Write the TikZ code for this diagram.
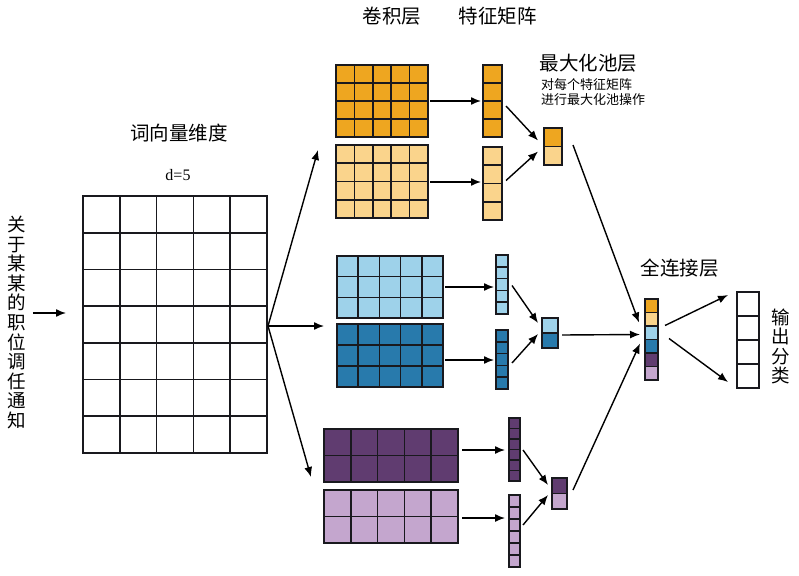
\documentclass[tikz,border=0pt]{standalone}
\usepackage{fontspec}
\newfontfamily\cjk{Noto Sans CJK SC}
\newfontfamily\serifnum{Liberation Serif}
\usetikzlibrary{arrows.meta,fit}
\definecolor{dorange}{RGB}{238,166,32}
\definecolor{lorange}{RGB}{250,212,140}
\definecolor{lblue}{RGB}{158,210,234}
\definecolor{dblue}{RGB}{40,122,172}
\definecolor{dpurple}{RGB}{96,60,112}
\definecolor{lpurple}{RGB}{196,166,206}
\definecolor{gridline}{RGB}{25,25,30}
\tikzset{
  gridbox/.style={draw=gridline, line width=1.6pt, inner sep=0pt, outer sep=0pt},
  gline/.style={draw=gridline, line width=1.6pt},
  arr/.style={-{Latex[length=10pt,width=8pt]}, line width=1.4pt},
  lab/.style={font=\cjk\fontsize{19.5}{21}\selectfont, inner sep=0pt},
  small/.style={font=\cjk\fontsize{13}{15}\selectfont, inner sep=0pt, align=left},
  vtext/.style={font=\cjk\fontsize{18.5}{19.6}\selectfont, inner sep=0pt, align=center},
}
% name, x1, y1, x2, y2, cols, rows, fill
\newcommand\cellgrid[8]{%
  \coordinate (#1-nw) at (#2,#3);
  \coordinate (#1-se) at (#4,#5);
  \node[gridbox, fill=#8, fit=(#1-nw)(#1-se)] (#1) {};
  \pgfmathsetmacro\gw{(#4-#2)/#6}%
  \pgfmathsetmacro\gh{(#5-#3)/#7}%
  \foreach \k in {0,...,#6}{\draw[gline] ({#2+\k*\gw},#3) -- ({#2+\k*\gw},#5);}
  \foreach \k in {0,...,#7}{\draw[gline] (#2,{#3+\k*\gh}) -- (#4,{#3+\k*\gh});}
}
\begin{document}
\begin{tikzpicture}[x=1pt,y=-1pt]
\useasboundingbox (0,0) rectangle (799,575);
\fill[white] (0,0) rectangle (799,575);

% labels
\node[lab] (lconv) at (392,16) {卷积层};
\node[lab] (lfeat) at (497.5,16) {特征矩阵};
\node[lab] (lpool) at (588.5,63) {最大化池层};
\node[small, anchor=north west] (lpoolnote) at (541,78) {对每个特征矩阵\\进行最大化池操作};
\node[lab] (lwv) at (179,133) {词向量维度};
\node[font=\serifnum\fontsize{16}{18}\selectfont, inner sep=0pt] (ld) at (178,175) {d=5};
\node[lab] (lfc) at (679.5,268) {全连接层};
\node[vtext] (in) at (16.5,322.5) {关\\于\\某\\某\\的\\职\\位\\调\\任\\通\\知};
\node[vtext] (lout) at (781,346.5) {输\\出\\分\\类};

% word vector matrix
\cellgrid{wg}{83}{196}{267}{453}{5}{7}{white}

% orange branch
\cellgrid{og1}{336}{65}{428}{137}{5}{4}{dorange}
\cellgrid{og2}{336}{145}{428}{218}{5}{4}{lorange}
\cellgrid{ov1}{483}{65}{502}{137}{1}{4}{dorange}
\cellgrid{ov2}{483}{147}{502}{220}{1}{4}{lorange}
\cellgrid{op}{544}{128}{562}{165}{1}{2}{dorange}
\fill[lorange] (544,146.5) rectangle (562,165);
\draw[gline] (544,128) rectangle (562,165);
\draw[gline] (544,146.5) -- (562,146.5);

% blue branch
\cellgrid{bg1}{337}{256}{443}{318}{5}{3}{lblue}
\cellgrid{bg2}{337}{324}{443}{387}{5}{3}{dblue}
\cellgrid{bv1}{496}{255}{508}{314}{1}{5}{lblue}
\cellgrid{bv2}{496}{330}{508}{389}{1}{5}{dblue}
\cellgrid{bp}{542}{318}{558}{348}{1}{2}{lblue}
\fill[dblue] (542,333) rectangle (558,348);
\draw[gline] (542,318) rectangle (558,348);
\draw[gline] (542,333) -- (558,333);

% purple branch
\cellgrid{pg1}{324}{429}{458}{482}{5}{2}{dpurple}
\cellgrid{pg2}{324}{490}{458}{543}{5}{2}{lpurple}
\cellgrid{pv1}{509}{418}{520}{481}{1}{6}{dpurple}
\cellgrid{pv2}{509}{495}{520}{567}{1}{6}{lpurple}
\cellgrid{pp}{552}{478}{567}{509}{1}{2}{dpurple}
\fill[lpurple] (552,493.5) rectangle (567,509);
\draw[gline] (552,478) rectangle (567,509);
\draw[gline] (552,493.5) -- (567,493.5);

% fully connected
\coordinate (fc-nw) at (645,299);
\coordinate (fc-se) at (658,380);
\node[gridbox, fit=(fc-nw)(fc-se)] (fc) {};
\foreach \c [count=\i from 0] in {dorange,lorange,lblue,dblue,dpurple,lpurple}{
  \fill[\c] (645,{299+\i*13.5}) rectangle (658,{299+(\i+1)*13.5});
}
\foreach \i in {0,...,6}{\draw[gline] (645,{299+\i*13.5}) -- (658,{299+\i*13.5});}
\draw[gline] (645,299) rectangle (658,380);

% output
\cellgrid{out}{737}{292}{759}{388}{1}{4}{white}

% input arrow
\coordinate (inarr) at (66,313);
\draw[arr, shorten <=7pt] (in.east |- inarr) -- (inarr);

% fan out from word matrix
\coordinate (wgout) at (268,326);
\coordinate (tipo) at (318,150);
\coordinate (tipb) at (324,326);
\coordinate (tipp) at (311,477);
\draw[arr] (wgout) -- (tipo);
\draw[arr] (wgout) -- (tipb);
\draw[arr] (wgout) -- (tipp);

% grid -> feature vectors
\draw[arr, shorten <=2pt, shorten >=2pt] (og1.east) -- (og1.east -| ov1.west);
\draw[arr, shorten <=2pt, shorten >=2pt] ([yshift=-0.5pt]og2.east) -- ([yshift=-0.5pt]og2.east -| ov2.west);
\draw[arr, shorten <=2pt, shorten >=2pt] (bg1.east) -- (bg1.east -| bv1.west);
\draw[arr, shorten <=2pt, shorten >=2pt] ([yshift=-4.5pt]bg2.east) -- ([yshift=-4.5pt]bg2.east -| bv2.west);
\draw[arr, shorten <=4pt, shorten >=4pt] ([yshift=5.5pt]pg1.east) -- ([yshift=5.5pt]pg1.east -| pv1.west);
\draw[arr, shorten <=4pt, shorten >=4pt] ([yshift=-1.5pt]pg2.east) -- ([yshift=-1.5pt]pg2.east -| pv2.west);

% feature vectors -> pools
\draw[arr] ([xshift=4pt,yshift=-5pt]ov1.east) -- ([xshift=-6pt,yshift=6pt]op.west);
\draw[arr] ([xshift=4pt,yshift=3pt]ov2.east) -- ([xshift=-6pt,yshift=-5pt]op.west);
\draw[arr] ([xshift=4pt,yshift=-1pt]bv1.east) -- ([xshift=-4pt,yshift=10pt]bp.west);
\draw[arr] ([xshift=4pt,yshift=-3.5pt]bv2.east) -- ([xshift=-4pt,yshift=-1pt]bp.west);
\draw[arr] ([xshift=3pt,yshift=-0.5pt]pv1.east) -- ([xshift=-4pt,yshift=8.5pt]pp.west);
\draw[arr] ([xshift=3pt,yshift=6pt]pv2.east) -- ([xshift=-4pt,yshift=-1.5pt]pp.west);

% pools -> fully connected
\draw[arr] ([xshift=11pt,yshift=1.5pt]op.east) -- ([xshift=-6pt,yshift=17pt]fc.west);
\draw[arr] ([xshift=4pt,yshift=-2pt]bp.east) -- ([xshift=-5pt,yshift=5pt]fc.west);
\draw[arr] ([xshift=6pt,yshift=3.5pt]pp.east) -- ([xshift=-5pt,yshift=-4pt]fc.west);

% fully connected -> output
\draw[arr] ([xshift=7pt,yshift=14pt]fc.east) -- ([xshift=-9pt,yshift=45pt]out.west);
\draw[arr] ([xshift=11pt,yshift=1pt]fc.east) -- ([xshift=-9pt,yshift=-42pt]out.west);
\end{tikzpicture}
\end{document}
